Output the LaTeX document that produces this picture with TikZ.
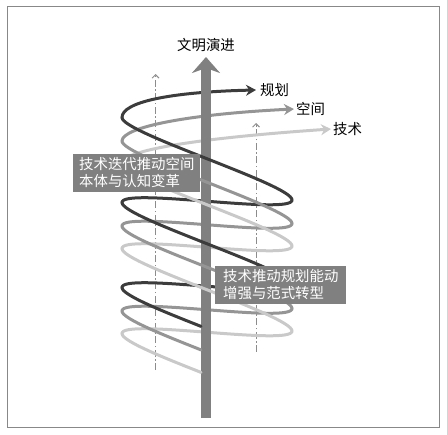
\documentclass[tikz,border=0pt]{standalone}
\usepackage{fontspec}
\setmainfont{Noto Sans CJK SC}
\usepackage{tikz}
\usetikzlibrary{arrows.meta}
\usepackage{xcolor}
\definecolor{darkline}{HTML}{3C3C3C}
\definecolor{midline}{HTML}{959595}
\definecolor{lightline}{HTML}{C9C9C9}
\definecolor{axisgray}{HTML}{808080}
\definecolor{boxgray}{HTML}{808080}
\definecolor{guidegray}{HTML}{8C8C8C}
\definecolor{framegray}{HTML}{888888}

\tikzset{
  helix/.style={line width=3pt, line cap=round, samples=60},
  guide/.style={draw=guidegray, line width=0.9pt, dash pattern=on 7pt off 2.5pt on 1.5pt off 2.5pt, -{Straight Barb[length=3.5pt,width=7pt]}},
  tag/.style={inner sep=0pt, font=\fontsize{14.4}{17}\selectfont},
  labelbox/.style={fill=boxgray, text=white, align=left, inner ysep=3.5pt, font=\fontsize{14.4}{17}\selectfont},
  tip/.style={-{Stealth[length=10pt,width=11pt]}}
}

\begin{document}
\begin{tikzpicture}[x=1pt,y=-1pt]
\useasboundingbox (0,0) rectangle (447,434);
\draw[framegray, line width=1pt] (7,6) rectangle (439.5,427);

% guides
\coordinate (gl0) at (155.5,370);
\coordinate (gl1) at (155.5,74);
\coordinate (gr0) at (256,352);
\coordinate (gr1) at (256,123);
\draw[guide] (gl0) -- (gl1);
\draw[guide] (gr0) -- (gr1);

% back halves
\foreach \Y/\col in {350/darkline,373.5/midline,396/lightline}{
  \foreach \k in {180,540}
    \draw[helix,\col] plot[domain=\k:\k+180] ({207+85*cos(\x)},{\Y-0.236111*\x+20*cos(\x)});
}
\draw[helix,darkline,tip] (122,117.5) .. controls (122,102) and (170,92) .. (256,90) coordinate (tipplan);
\draw[helix,midline,tip] (122,141) .. controls (122,127) and (190,114) .. (294,109) coordinate (tipspace);
\draw[helix,lightline,tip] (122,163.5) .. controls (122,150) and (200,138) .. (331,129) coordinate (tiptech);

% axis
\coordinate (axisbot) at (206,418);
\coordinate (axistop) at (206,57);
\draw[axisgray, line width=10.5pt, -{Stealth[length=16pt,width=28pt,inset=5pt]}] (axisbot) -- (axistop);
\node[tag] (civ) at (206,45) {文明演进};

% front halves
\foreach \Y/\col in {350/darkline,373.5/midline,396/lightline}{
  \draw[helix,\col] plot[domain=94:180] ({207+85*cos(\x)},{\Y-0.236111*\x+20*cos(\x)});
  \foreach \k in {360,720}
    \draw[helix,\col] plot[domain=\k:\k+180] ({207+85*cos(\x)},{\Y-0.236111*\x+20*cos(\x)});
}

\node[tag, anchor=west] (plan) at ([xshift=4pt]tipplan) {规划};
\node[tag, anchor=west] (space) at ([xshift=2pt]tipspace) {空间};
\node[tag, anchor=west] (tech) at ([xshift=2pt]tiptech) {技术};

\node[labelbox, anchor=north west, inner xsep=6pt] (box1) at (73,154) {技术迭代推动空间\\本体与认知变革};
\node[labelbox, anchor=north west, inner xsep=8pt] (box2) at (215,266) {技术推动规划能动\\增强与范式转型};
\end{tikzpicture}
\end{document}
